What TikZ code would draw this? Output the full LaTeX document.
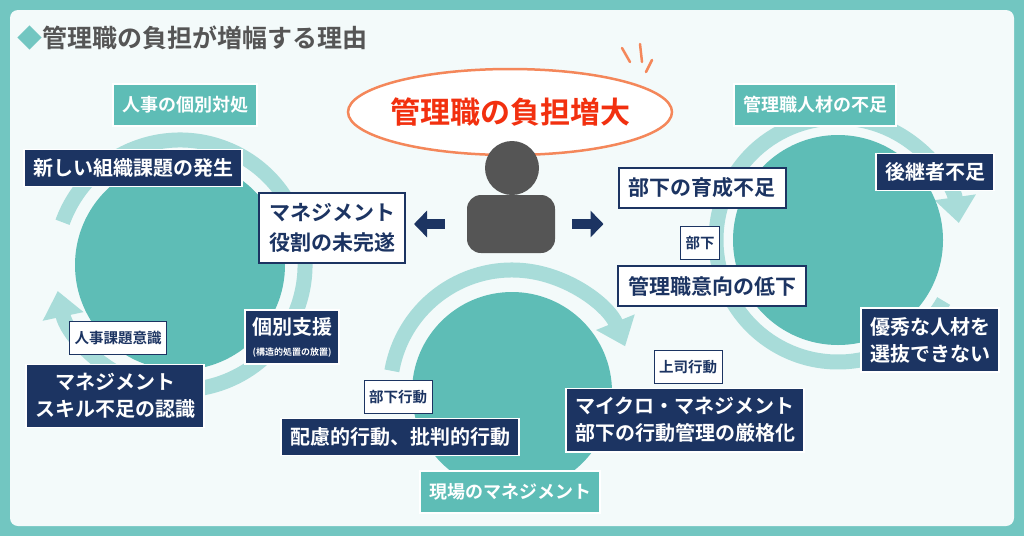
\documentclass[tikz,border=0pt]{standalone}
\usepackage{fontspec}
\setmainfont{Noto Sans CJK JP}[BoldFont={Noto Sans CJK JP Bold}]
\usetikzlibrary{arrows.meta,positioning,shapes.geometric}
\definecolor{frame}{HTML}{72C6C1}
\definecolor{inner}{HTML}{F3FAFA}
\definecolor{teal}{HTML}{5EBDB6}
\definecolor{ring}{HTML}{A8DCD9}
\definecolor{navy}{HTML}{1C3462}
\definecolor{orng}{HTML}{F4875A}
\definecolor{redtxt}{HTML}{F2300F}
\definecolor{gray}{HTML}{555555}
\begin{document}
\begin{tikzpicture}[x=1pt,y=-1pt,font=\bfseries,
        dark box/.style={rectangle,fill=navy,draw=white,line width=1.5pt,text=white,
          font=\fontsize{20}{27}\bfseries,align=center,inner sep=9pt},
        light box/.style={rectangle,fill=white,draw=navy,line width=2pt,text=navy,
          font=\fontsize{21}{30}\bfseries,align=center,inner sep=10pt},
        tag box/.style={rectangle,fill=white,draw=navy,line width=1pt,text=navy,
          font=\fontsize{14.5}{16}\bfseries,inner sep=5pt,minimum height=33pt},
        cycle box/.style={rectangle,fill=teal,draw=white,line width=2pt,text=white,
          font=\fontsize{18}{20}\bfseries,inner sep=9pt,minimum height=42pt},
        ring arrow/.style={ring,line width=15pt,-{Triangle[length=26pt,width=40pt]}},
        fat arrow/.style={navy,line width=10pt,-{Triangle[length=13pt,width=26pt]}}]
        \useasboundingbox (0,0) rectangle (1024,536);
        \fill[frame] (0,0) rectangle (1024,536);
        \fill[inner,rounded corners=8pt] (10,10) rectangle (1014,526);
        % title
        \node[anchor=west,text=gray,font=\fontsize{25}{28}\bfseries] (title) at (14,38)
          {\textcolor{frame}{◆}管理職の負担が増幅する理由};
        % cycles
        \draw[ring arrow] (180,265) ++(200:125) arc[start angle=200,end angle=528,radius=125];
        \draw[ring arrow] (512,392) ++(190:122) arc[start angle=190,end angle=338,radius=122];
        \draw[ring arrow] (838,240) ++(30:122) arc[start angle=30,end angle=352,radius=122];
        \fill[teal] (180,265) circle (105);
        \fill[teal] (512,392) circle (100);
        \fill[teal] (838,240) circle (105);
        \node[cycle box] (hr) at (185,105) {人事の個別対処};
        \node[cycle box] (lack) at (815,105) {管理職人材の不足};
        \node[cycle box] (field) at (510,492) {現場のマネジメント};
        % center
        \draw[orng,fill=white,line width=2.5pt] (510,112) ellipse[x radius=162,y radius=43];
        \draw[orng,line width=2.5pt,line cap=round] (622,48) -- (630,62) (640,44) -- (642,62) (652,60) -- (646,72);
        \node[text=redtxt,font=\fontsize{30}{32}\bfseries] (burden) at (510,112) {管理職の負担増大};
        \fill[gray] (512,168) circle (27);
        \node[fill=gray,rounded corners=14pt,minimum width=88pt,minimum height=58pt] (body) at (511,224) {};
        % left side
        \node[dark box] (newtask) at (133,168) {新しい組織課題の発生};
        \node[light box] (mgmt) at (332,228) {マネジメント\\役割の未完遂};
        \node[dark box,inner sep=7pt] (indiv) at (292,337) {個別支援\\[-6pt]{\fontsize{9}{10}\bfseries (構造的処置の放置)}};
        \node[dark box] (skill) at (115,396) {マネジメント\\スキル不足の認識};
        \node[tag box] (hrtag) at (118,338) {人事課題意識};
        % bottom
        \node[dark box] (behav) at (400,437) {配慮的行動、批判的行動};
        \node[tag box] (subtag) at (398,397) {部下行動};
        \node[dark box] (micro) at (685,420) {マイクロ・マネジメント\\部下の行動管理の厳格化};
        \node[tag box] (bosstag) at (688,367) {上司行動};
        % right side
        \node[light box] (train) at (702,188) {部下の育成不足};
        \node[light box] (will) at (712,286) {管理職意向の低下};
        \node[tag box] (subtag2) at (700,243) {部下};
        \node[dark box] (succ) at (935,172) {後継者不足};
        \node[dark box] (select) at (930,340) {優秀な人材を\\選抜できない};
        % arrows
        \draw[fat arrow,shorten <=22pt,shorten >=8pt] (body.west) -- (mgmt.east |- body.west);
        \draw[fat arrow,shorten <=17pt,shorten >=14pt] (body.east) -- (train.west |- body.east);
        \end{tikzpicture}
\end{document}
